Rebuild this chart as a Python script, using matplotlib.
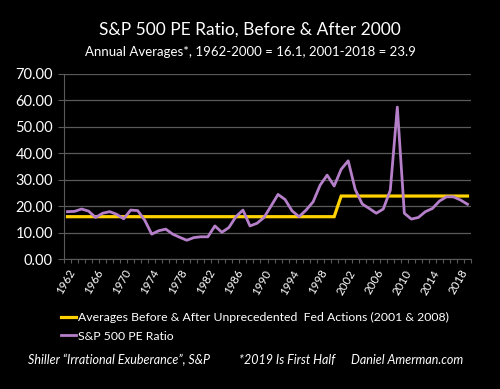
import matplotlib.pyplot as plt
import numpy as np

years = list(range(1962, 2020))
pe_ratio = [18.0, 18.1, 19.0, 18.2, 15.8, 17.4, 18.0, 17.0, 15.3, 18.6,
            18.4, 14.8, 9.5, 10.8, 11.4, 9.5, 8.3, 7.2, 8.2, 8.5,
            8.5, 12.6, 10.2, 12.0, 16.1, 18.6, 12.6, 13.6, 15.8, 20.1,
            24.5, 22.6, 18.3, 16.1, 18.6, 21.7, 28.0, 31.8, 27.7, 34.0,
            37.2, 26.4, 20.9, 19.2, 17.4, 19.0, 26.1, 57.5, 17.4, 15.2,
            15.8, 18.0, 19.2, 22.0, 23.6, 23.6, 22.4, 20.8]
avg_before = 16.1
avg_after = 23.9
averages = [avg_before if y <= 2000 else avg_after for y in years]
tick_years = list(range(1962, 2019, 4))

title = "S&P 500 PE Ratio, Before & After 2000"
subtitle = "Annual Averages*, 1962-2000 = 16.1, 2001-2018 = 23.9"
label_avg = "Averages Before & After Unprecedented  Fed Actions (2001 & 2008)"
label_pe = "S&P 500 PE Ratio"

plt.rcParams['font.family'] = ['Lato', 'DejaVu Sans']
yellow = "#FFD200"
purple = "#B57FC9"
grid_col = "#5a5a5a"

fig = plt.figure(figsize=(5.0, 3.89), dpi=100, facecolor="black")
ax = fig.add_axes([0.128, 0.3334, 0.814, 0.4764], facecolor="black")

x = np.arange(len(years))
ax.plot(x, averages, color=yellow, lw=2.3, label=label_avg, solid_joinstyle="miter")
ax.plot(x, pe_ratio, color=purple, lw=2.0, label=label_pe)

ax.set_xlim(-0.5, len(years) - 0.5)
ax.set_ylim(0, 70)
ax.set_yticks(np.arange(0, 71, 10))
ax.set_yticklabels([f"{v:.2f}" for v in range(0, 71, 10)], color="white", fontsize=10.5)
ax.yaxis.grid(True, color=grid_col, lw=0.9)
ax.set_axisbelow(True)

# category labels at centres, tick marks at boundaries
ax.set_xticks([years.index(y) for y in tick_years])
ax.set_xticklabels([str(y) for y in tick_years], rotation=60, ha="right",
                   rotation_mode="anchor", color="white", fontsize=8.3)
ax.tick_params(axis="x", which="major", length=0, pad=6)
ax.set_xticks(np.arange(-0.5, len(years), 1), minor=True)
ax.tick_params(axis="x", which="minor", length=3, color=grid_col, width=0.8)
ax.tick_params(axis="y", length=4, color=grid_col, width=0.8, pad=4)

for side in ["top", "right"]:
    ax.spines[side].set_visible(False)
ax.spines["left"].set_color(grid_col)
ax.spines["bottom"].set_color(grid_col)

fig.text(0.5, 0.925, title, ha="center", va="center", color="white", fontsize=12.5)
fig.text(0.5, 0.866, subtitle, ha="center", va="center", color="white", fontsize=9.5)

fig.legend(loc="upper left", bbox_to_anchor=(0.112, 0.21), frameon=False,
           handlelength=1.25, handletextpad=0.15, labelspacing=0.6,
           fontsize=8.8, labelcolor="white", borderaxespad=0)

fig.text(0.056, 0.075, "Shiller \u201cIrrational Exuberance\u201d, S&P", color="white",
         fontsize=9, style="italic", va="center")
fig.text(0.478, 0.075, "*2019 Is First Half", color="white",
         fontsize=9, style="italic", va="center")
fig.text(0.702, 0.075, "Daniel Amerman.com", color="white",
         fontsize=9, style="italic", va="center")

fig.savefig("out.png", dpi=100, facecolor="black")
